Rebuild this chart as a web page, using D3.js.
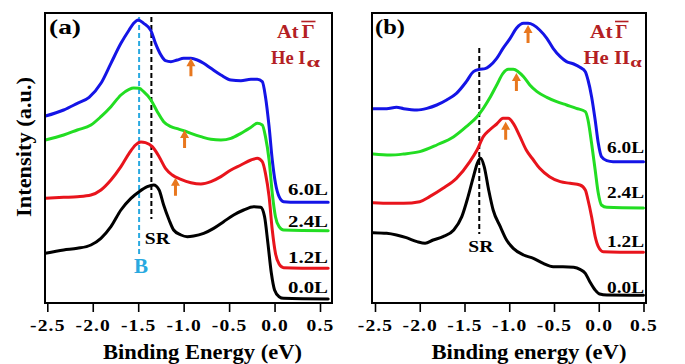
<!DOCTYPE html>
<html>
<head>
<meta charset="utf-8">
<script src="https://cdn.jsdelivr.net/npm/d3@7"></script>
<style>
  html, body { margin: 0; padding: 0; background: #fff; }
  svg { display: block; }
  text { font-family: "Liberation Serif", "Times New Roman", Tinos, serif; }
</style>
</head>
<body>
<svg id="chart" width="685" height="364"></svg>
<script>
// ---- Data: ARPES energy distribution curves at Γ̄, [binding energy (eV), intensity (a.u.)] ----

// Panel (a): He Iα
const heI_6_0L = [[-2.52,561],[-2.32,579],[-2.17,599],[-2.04,617],[-1.91,659],[-1.80,719],[-1.69,779],[-1.60,819],[-1.55,839],[-1.50,849],[-1.44,839],[-1.36,817],[-1.31,779],[-1.25,744],[-1.20,727],[-1.14,724],[-1.07,729],[-1.00,734],[-0.92,734],[-0.85,729],[-0.78,719],[-0.70,704],[-0.59,684],[-0.48,669],[-0.37,667],[-0.26,671],[-0.19,671],[-0.135,664],[-0.10,619],[-0.06,529],[-0.025,429],[0.01,359],[0.05,319],[0.10,304],[0.25,302],[0.59,302]];
const heI_2_4L = [[-2.52,489],[-2.32,504],[-2.17,519],[-2.02,534],[-1.91,559],[-1.80,589],[-1.69,624],[-1.60,641],[-1.55,645],[-1.49,644],[-1.44,634],[-1.36,609],[-1.29,574],[-1.22,544],[-1.14,529],[-1.07,523],[-1.00,517],[-0.92,509],[-0.81,499],[-0.70,491],[-0.59,489],[-0.48,494],[-0.37,509],[-0.26,527],[-0.19,539],[-0.135,534],[-0.10,499],[-0.06,429],[-0.025,329],[0.01,259],[0.05,229],[0.10,219],[0.59,217]];
const heI_1_2L = [[-2.52,314],[-2.32,317],[-2.17,319],[-2.02,324],[-1.91,339],[-1.80,369],[-1.69,409],[-1.60,449],[-1.53,474],[-1.47,483],[-1.42,481],[-1.345,469],[-1.27,439],[-1.20,404],[-1.125,384],[-1.03,371],[-0.92,361],[-0.81,357],[-0.70,364],[-0.59,379],[-0.48,399],[-0.37,414],[-0.26,429],[-0.19,434],[-0.135,424],[-0.10,389],[-0.06,319],[-0.025,219],[0.01,149],[0.05,117],[0.10,106],[0.59,104]];
const heI_0_0L = [[-2.52,149],[-2.32,159],[-2.17,164],[-2.02,174],[-1.91,194],[-1.80,229],[-1.69,279],[-1.58,314],[-1.49,334],[-1.40,349],[-1.33,354],[-1.27,339],[-1.22,294],[-1.16,249],[-1.11,219],[-1.03,204],[-0.96,199],[-0.89,201],[-0.78,209],[-0.67,224],[-0.56,244],[-0.45,264],[-0.34,279],[-0.23,289],[-0.153,287],[-0.11,259],[-0.073,179],[-0.035,89],[0.00,39],[0.05,19],[0.10,14],[0.59,12]];

// Panel (b): He IIα
const heII_6_0L = [[-2.52,583],[-2.37,583],[-2.26,587],[-2.18,583],[-2.03,579],[-1.92,584],[-1.81,594],[-1.70,609],[-1.59,629],[-1.48,664],[-1.40,694],[-1.33,701],[-1.27,703],[-1.22,711],[-1.14,734],[-1.07,764],[-0.99,794],[-0.92,824],[-0.84,839],[-0.79,839],[-0.73,834],[-0.66,819],[-0.58,794],[-0.51,764],[-0.43,739],[-0.36,724],[-0.28,717],[-0.21,707],[-0.15,694],[-0.12,669],[-0.08,619],[-0.04,549],[-0.005,479],[0.03,439],[0.09,427],[0.16,424],[0.50,424]];
const heII_2_4L = [[-2.52,447],[-2.33,444],[-2.18,447],[-2.00,454],[-1.81,474],[-1.62,499],[-1.48,529],[-1.36,559],[-1.29,584],[-1.22,614],[-1.14,654],[-1.07,689],[-1.01,701],[-0.955,701],[-0.90,694],[-0.84,679],[-0.77,654],[-0.69,634],[-0.58,617],[-0.47,604],[-0.36,594],[-0.25,584],[-0.15,574],[-0.12,549],[-0.08,479],[-0.04,399],[-0.005,329],[0.03,294],[0.09,287],[0.50,285]];
const heII_1_2L = [[-2.52,301],[-2.33,299],[-2.18,299],[-2.00,304],[-1.89,319],[-1.74,344],[-1.59,374],[-1.44,424],[-1.36,459],[-1.29,499],[-1.22,519],[-1.14,537],[-1.07,554],[-1.01,554],[-0.955,539],[-0.88,499],[-0.81,459],[-0.73,429],[-0.66,404],[-0.55,379],[-0.43,364],[-0.32,359],[-0.21,354],[-0.15,339],[-0.12,309],[-0.08,259],[-0.04,199],[-0.005,169],[0.05,154],[0.50,152]];
const heII_0_0L = [[-2.52,211],[-2.37,209],[-2.26,204],[-2.15,196],[-2.03,184],[-1.94,179],[-1.85,189],[-1.74,199],[-1.62,219],[-1.53,259],[-1.46,319],[-1.40,379],[-1.357,419],[-1.32,434],[-1.28,409],[-1.23,339],[-1.18,279],[-1.10,229],[-1.03,189],[-0.955,164],[-0.84,144],[-0.73,134],[-0.62,119],[-0.51,109],[-0.40,109],[-0.28,107],[-0.21,101],[-0.15,89],[-0.10,64],[-0.04,39],[0.01,27],[0.09,24],[0.50,23]];

const exposures = ["6.0L", "2.4L", "1.2L", "0.0L"];
const tickValues = [-2.5, -2.0, -1.5, -1.0, -0.5, 0.0, 0.5];
const tickLabels = ["-2.5", "-2.0", "-1.5", "-1.0", "-0.5", "0.0", "0.5"];

// Arrow tips [energy, intensity] marking the adsorbate-induced feature, 6.0L / 2.4L / 1.2L
const arrowsA = [[-0.92,734],[-0.99,519],[-1.09,376]];
const arrowsB = [[-0.79,834],[-0.92,690],[-1.04,544]];

// Vertical guides [energy, top intensity, bottom intensity]
const bulkLineA = [-1.49, 858, 147];
const srLineA = [-1.355, 858, 252];
const srLineB = [-1.335, 765, 207];

// ---- Styling ----
const curveColors = ["#1414e6", "#22dd22", "#e8141c", "#000000"];
const arrowColor = "#e8771e";
const bulkColor = "#29a9e0";
const titleRed = "#b41f24";

const svg = d3.select("#chart");

function txt(g, s, x, y, o = {}) {
  const t = g.append("text")
    .attr("x", x).attr("y", y)
    .attr("font-weight", "bold")
    .attr("font-size", o.size || 16)
    .attr("fill", o.fill || "#000")
    .attr("text-anchor", o.anchor || "start")
    .text(s);
  if (o.width) t.attr("textLength", o.width).attr("lengthAdjust", "spacingAndGlyphs");
  return t;
}

function drawPanel(cfg) {
  const g = svg.append("g");
  const x = d3.scaleLinear().domain([-2.5, 0.5]).range([cfg.x0, cfg.x1]);
  const y = d3.scaleLinear().domain([0, 870]).range([cfg.bottom, cfg.top]);

  const line = d3.line()
    .x(d => x(d[0])).y(d => y(d[1]))
    .curve(d3.curveMonotoneX);

  // guide lines (beneath curves)
  cfg.guides.forEach(gd => {
    g.append("line")
      .attr("x1", x(gd.v[0])).attr("x2", x(gd.v[0]))
      .attr("y1", y(gd.v[1])).attr("y2", y(gd.v[2]))
      .attr("stroke", gd.color).attr("stroke-width", 2)
      .attr("stroke-dasharray", "5,3");
  });

  // spectra
  cfg.series.forEach((s, i) => {
    g.append("path")
      .datum(s)
      .attr("fill", "none")
      .attr("stroke", curveColors[i])
      .attr("stroke-width", 3)
      .attr("stroke-linejoin", "round")
      .attr("stroke-linecap", "round")
      .attr("d", line);
  });

  // arrows pointing up to the feature
  cfg.arrows.forEach(a => {
    const ax = x(a[0]), ay = y(a[1]);
    g.append("path")
      .attr("d", `M${ax},${ay} L${ax + 4.5},${ay + 8} L${ax + 1.5},${ay + 8} L${ax + 1.5},${ay + 18} L${ax - 1.5},${ay + 18} L${ax - 1.5},${ay + 8} L${ax - 4.5},${ay + 8} Z`)
      .attr("fill", arrowColor);
  });

  // exposure labels at the right
  exposures.forEach((lab, i) => {
    txt(g, lab, cfg.labelRight, cfg.labelY[i], { anchor: "end", size: 16, width: cfg.labelW });
  });

  // frame
  g.append("rect")
    .attr("x", cfg.left).attr("y", cfg.top)
    .attr("width", cfg.right - cfg.left).attr("height", cfg.bottom - cfg.top)
    .attr("fill", "none").attr("stroke", "#000").attr("stroke-width", 2);

  // bottom axis
  const axis = d3.axisBottom(x)
    .tickValues(tickValues)
    .tickSize(9)
    .tickPadding(6.5)
    .tickFormat((d, i) => tickLabels[i]);
  const ax = g.append("g")
    .attr("transform", `translate(0,${cfg.bottom})`)
    .call(axis);
  ax.attr("font-family", null).attr("font-size", null);
  ax.select(".domain").remove();
  ax.selectAll(".tick line").attr("stroke", "#000").attr("stroke-width", 1.6);
  ax.selectAll(".tick text")
    .attr("font-weight", "bold").attr("font-size", 17)
    .attr("fill", "#000").attr("letter-spacing", "1px")
    .attr("transform", "scale(1.15,1)");

  return { g, x, y };
}

// ---- Panel (a) ----
const pa = drawPanel({
  left: 45, right: 332, top: 13, bottom: 303, x0: 47.3, x1: 320,
  series: [heI_6_0L, heI_2_4L, heI_1_2L, heI_0_0L],
  arrows: arrowsA,
  guides: [{ v: bulkLineA, color: bulkColor }, { v: srLineA, color: "#000" }],
  labelRight: 328, labelY: [195, 226.5, 263, 292.5], labelW: 40
});
txt(pa.g, "(a)", 49, 34, { size: 20, width: 32 });
txt(pa.g, "SR", pa.x(srLineA[0]) + 6, 244, { anchor: "middle", size: 16, width: 25 });
txt(pa.g, "B", pa.x(bulkLineA[0]) + 2, 272.5, { anchor: "middle", size: 21, fill: bulkColor });
txt(pa.g, "At", 277, 38.3, { size: 18, width: 21.5, fill: titleRed });
txt(pa.g, "Γ", 308.3, 38.3, { size: 18, anchor: "middle", width: 13, fill: titleRed });
pa.g.append("line").attr("x1", 301.3).attr("x2", 315.5).attr("y1", 21.5).attr("y2", 21.5)
  .attr("stroke", titleRed).attr("stroke-width", 1.6);
txt(pa.g, "He I", 271, 64, { size: 18, width: 34.5, fill: titleRed });
txt(pa.g, "α", 306.5, 66.5, { size: 14, width: 13.5, fill: titleRed });

// ---- Panel (b) ----
const pb = drawPanel({
  left: 372, right: 646, top: 13, bottom: 303, x0: 375, x1: 643.5,
  series: [heII_6_0L, heII_2_4L, heII_1_2L, heII_0_0L],
  arrows: arrowsB,
  guides: [{ v: srLineB, color: "#000" }],
  labelRight: 644, labelY: [152.5, 198, 246.5, 292.5], labelW: 37
});
txt(pb.g, "(b)", 375, 34, { size: 20, width: 30 });
txt(pb.g, "SR", pb.x(srLineB[0]) + 1.5, 252, { anchor: "middle", size: 16, width: 25 });
txt(pb.g, "At", 590, 38.3, { size: 18, width: 22.5, fill: titleRed });
txt(pb.g, "Γ", 621.6, 38.3, { size: 18, anchor: "middle", width: 12, fill: titleRed });
pb.g.append("line").attr("x1", 615).attr("x2", 628.5).attr("y1", 21.5).attr("y2", 21.5)
  .attr("stroke", titleRed).attr("stroke-width", 1.6);
txt(pb.g, "He II", 583.5, 64, { size: 18, width: 46.5, fill: titleRed });
txt(pb.g, "α", 630.2, 66.5, { size: 14, width: 11.5, fill: titleRed });

// ---- Axis titles ----
txt(svg, "Binding Energy (eV)", 202.5, 358.7, { anchor: "middle", size: 20, width: 199 });
txt(svg, "Binding energy (eV)", 529, 358.7, { anchor: "middle", size: 20, width: 195 });
txt(svg, "Intensity (a.u.)", 0, 0, { anchor: "middle", size: 20, width: 140 })
  .attr("transform", "translate(31,147) rotate(-90)");
</script>
</body>
</html>
